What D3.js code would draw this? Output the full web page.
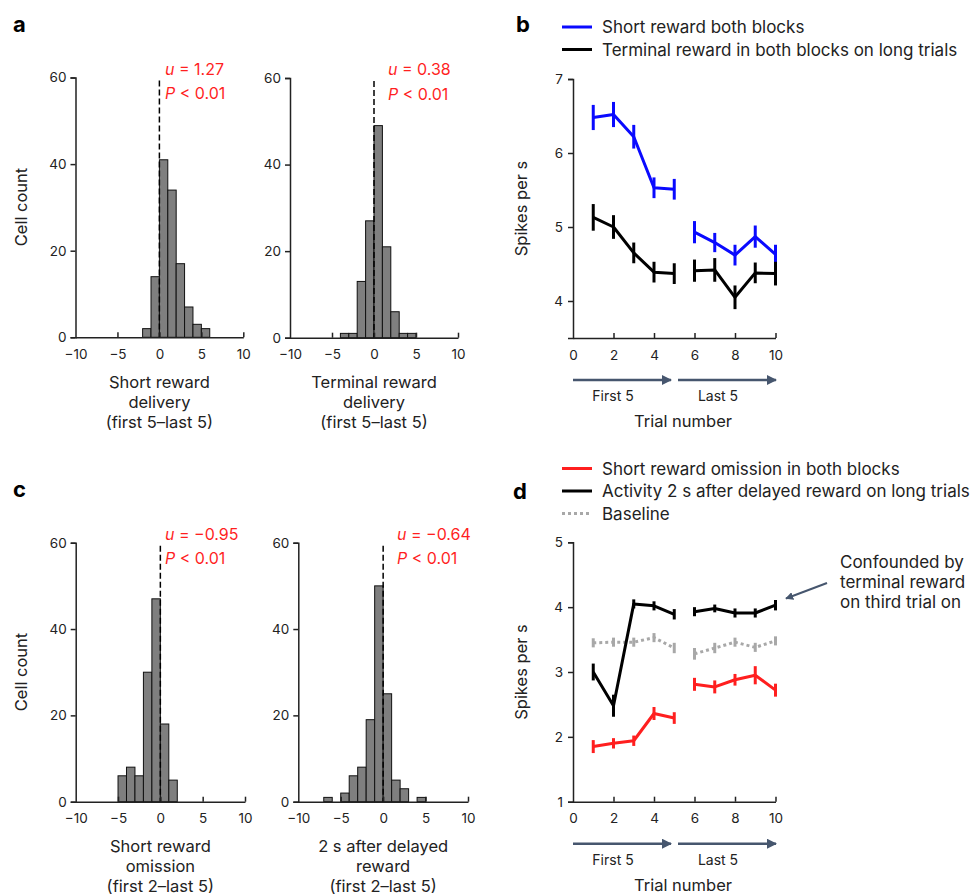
<!DOCTYPE html>
<html><head><meta charset="utf-8">
<script src="https://cdn.jsdelivr.net/npm/d3@7"></script>
<style>
body{margin:0;background:#fff}
svg text{font-family:Inter,"Noto Sans",sans-serif;fill:#222}
</style>
</head><body>
<svg id="chart" width="974" height="895"></svg>
<script>
// ---------- DATA ----------
const histXTicks = [-10,-5,0,5,10];
const histYTicks = [0,20,40,60];

const binsA1 = [-2,-1,0,1,2,3,4,5];
const countsA1 = [2,14,41,34,17,7,3,2];
const binsA2 = [-4,-3,-2,-1,0,1,2,3,4];
const countsA2 = [1,1,13,27,49,21,6,1,1];
const binsC1 = [-5,-4,-3,-2,-1,0,1];
const countsC1 = [6,8,6,30,47,18,5];
const binsC2 = [-7,-5,-4,-3,-2,-1,0,1,2,4];
const countsC2 = [1,2,6,8,19,50,25,5,3,1];

const statsA1 = ["1.27","0.01"];
const statsA2 = ["0.38","0.01"];
const statsC1 = ["−0.95","0.01"];
const statsC2 = ["−0.64","0.01"];

const labelA1 = ["Short reward","delivery","(first 5–last 5)"];
const labelA2 = ["Terminal reward","delivery","(first 5–last 5)"];
const labelC1 = ["Short reward","omission","(first 2–last 5)"];
const labelC2 = ["2 s after delayed","reward","(first 2–last 5)"];

const trials = [1,2,3,4,5,6,7,8,9,10];
const trialTicks = [0,2,4,6,8,10];
const bYTicks = [4,5,6,7];
const dYTicks = [1,2,3,4,5];

const bShortMean = [6.48,6.52,6.22,5.53,5.51,4.93,4.79,4.62,4.87,4.63];
const bShortErr  = [0.17,0.17,0.16,0.14,0.14,0.15,0.13,0.14,0.15,0.13];
const bTermMean  = [5.13,5.00,4.65,4.39,4.37,4.41,4.42,4.05,4.38,4.37];
const bTermErr   = [0.18,0.16,0.14,0.14,0.14,0.15,0.16,0.16,0.14,0.16];

const dOmitMean  = [1.85,1.90,1.94,2.36,2.29,2.81,2.77,2.88,2.95,2.72];
const dOmitErr   = [0.10,0.08,0.08,0.10,0.09,0.10,0.10,0.09,0.14,0.10];
const dDelayMean = [3.00,2.48,4.05,4.02,3.89,3.93,3.98,3.91,3.91,4.03];
const dDelayErr  = [0.13,0.17,0.07,0.07,0.08,0.07,0.06,0.07,0.07,0.08];
const dBaseMean  = [3.45,3.46,3.46,3.53,3.37,3.28,3.37,3.46,3.38,3.48];
const dBaseErr   = [0.07,0.07,0.07,0.07,0.08,0.09,0.08,0.07,0.07,0.07];

const legendB = ["Short reward both blocks","Terminal reward in both blocks on long trials"];
const legendD = ["Short reward omission in both blocks","Activity 2 s after delayed reward on long trials","Baseline"];
const annotD = ["Confounded by","terminal reward","on third trial on"];

// ---------- DRAW ----------
const svg = d3.select("#chart");
const AX = "#222", RED = "#ff1f1f", BLUE = "#0a0aff", GREY = "#a8a8a8", SLATE = "#46566e";
const fmt = d3.format("d");

svg.append("defs").append("marker")
  .attr("id","ah").attr("viewBox","0 0 10 10").attr("refX",9).attr("refY",5)
  .attr("markerWidth",4).attr("markerHeight",4).attr("orient","auto")
  .append("path").attr("d","M0,0L10,5L0,10z").attr("fill",SLATE);

function styleAxis(g){
  g.select(".domain").attr("stroke",AX).attr("stroke-width",1.5);
  g.selectAll(".tick line").attr("stroke",AX).attr("stroke-width",1.5);
  g.selectAll(".tick text").attr("font-size",13.5).attr("fill","#222").style("font-family","Inter,sans-serif");
}

function histogram(box, bins, counts, stats, labels){
  const x = d3.scaleLinear([-10,10],[box.x0,box.x1]);
  const y = d3.scaleLinear([0,60],[box.yb,box.yt]);
  const g = svg.append("g");
  g.selectAll("rect.bar").data(bins.map((b,i)=>({b,c:counts[i]}))).join("rect")
    .attr("x",d=>x(d.b)).attr("width",d=>x(d.b+1)-x(d.b))
    .attr("y",d=>y(d.c)).attr("height",d=>y(0)-y(d.c))
    .attr("fill","#7f7f7f").attr("stroke","#111").attr("stroke-width",1);
  g.append("line").attr("x1",x(0)).attr("x2",x(0)).attr("y1",box.yt+3).attr("y2",y(0))
    .attr("stroke","#000").attr("stroke-width",1.5).attr("stroke-dasharray","6,3");
  const ya = g.append("g").attr("transform",`translate(${box.x0},0)`)
    .call(d3.axisLeft(y).tickValues(histYTicks).tickFormat(fmt).tickSizeOuter(0).tickSize(5).tickPadding(4));
  styleAxis(ya);
  const xa = g.append("g").attr("transform",`translate(0,${y(0)})`)
    .call(d3.axisBottom(x).tickValues(histXTicks).tickFormat(fmt).tickSizeInner(-5).tickSizeOuter(0).tickPadding(12));
  styleAxis(xa);
  xa.selectAll(".tick").filter(d=>d===-10).select("line").remove();
  const cx = (box.x0+box.x1)/2;
  labels.forEach((t,i)=>g.append("text").attr("x",cx).attr("y",box.yb+50.5+i*20)
    .attr("text-anchor","middle").attr("font-size",16.5).text(t));
  const t1 = g.append("text").attr("x",box.sx).attr("y",box.yt-3).attr("font-size",16).style("fill",RED);
  t1.append("tspan").attr("font-style","italic").style("fill",RED).text("u");
  t1.append("tspan").style("fill",RED).text(" = "+stats[0]);
  const t2 = g.append("text").attr("x",box.sx).attr("y",box.yt+21.5).attr("font-size",16).style("fill",RED);
  t2.append("tspan").attr("font-style","italic").style("fill",RED).text("P");
  t2.append("tspan").style("fill",RED).text(" < "+stats[1]);
}

histogram({x0:75.5,x1:243.3,yt:77.5,yb:337.3,sx:165}, binsA1, countsA1, statsA1, labelA1);
histogram({x0:290,x1:458,yt:78,yb:337.7,sx:388}, binsA2, countsA2, statsA2, labelA2);
histogram({x0:75.7,x1:245,yt:542.7,yb:801.7,sx:165}, binsC1, countsC1, statsC1, labelC1);
histogram({x0:298.3,x1:468,yt:542.7,yb:801.7,sx:397}, binsC2, countsC2, statsC2, labelC2);

// y labels "Cell count"
[[27,207],[27,672]].forEach(([px,py])=>svg.append("text")
  .attr("transform",`translate(${px},${py}) rotate(-90)`).attr("text-anchor","middle")
  .attr("font-size",16.5).text("Cell count"));

function linePanel(box, yDomain, yTicks, series){
  const x = d3.scaleLinear([0,10],[573,775.5]);
  const y = d3.scaleLinear(yDomain,[box.yb,box.yt]);
  const g = svg.append("g");
  const ya = g.append("g").attr("transform",`translate(${x(0)},0)`)
    .call(d3.axisLeft(y).tickValues(yTicks).tickFormat(fmt).tickSizeOuter(0).tickSize(5).tickPadding(5));
  styleAxis(ya);
  const xa = g.append("g").attr("transform",`translate(0,${box.yb})`)
    .call(d3.axisBottom(x).tickValues(trialTicks).tickFormat(fmt).tickSizeInner(-5).tickSizeOuter(0).tickPadding(12));
  styleAxis(xa);
  xa.selectAll(".tick").filter(d=>d===0).select("line").remove();
  const line = d3.line().x(d=>x(d.t)).y(d=>y(d.m));
  series.forEach(s=>{
    const pts = trials.map((t,i)=>({t,m:s.mean[i],e:s.err[i]}));
    [pts.slice(0,5),pts.slice(5)].forEach(seg=>{
      g.append("path").datum(seg).attr("d",line).attr("fill","none")
        .attr("stroke",s.color).attr("stroke-width",3).attr("stroke-linejoin","round")
        .attr("stroke-dasharray",s.dash||null);
    });
    g.selectAll(null).data(pts).join("line")
      .attr("x1",d=>x(d.t)).attr("x2",d=>x(d.t))
      .attr("y1",d=>y(d.m-d.e)).attr("y2",d=>y(d.m+d.e))
      .attr("stroke",s.color).attr("stroke-width",3);
  });
  // arrows & x label
  const ay = box.yb+42;
  [[573,673,"First 5"],[678,778,"Last 5"]].forEach(([a,b,t])=>{
    g.append("line").attr("x1",a).attr("x2",b-2).attr("y1",ay).attr("y2",ay)
      .attr("stroke",SLATE).attr("stroke-width",2.5).attr("marker-end","url(#ah)");
    g.append("text").attr("x",(a+b)/2-10).attr("y",ay+21).attr("text-anchor","middle")
      .attr("font-size",14).text(t);
  });
  g.append("text").attr("x",683).attr("y",box.yb+89).attr("text-anchor","middle")
    .attr("font-size",16.5).text("Trial number");
  g.append("text").attr("transform",`translate(527,${(box.yt+box.yb)/2}) rotate(-90)`)
    .attr("text-anchor","middle").attr("font-size",16.5).text("Spikes per s");
  return {x,y};
}

linePanel({yt:79,yb:338},[3.5,7],bYTicks,[
  {mean:bShortMean,err:bShortErr,color:BLUE},
  {mean:bTermMean,err:bTermErr,color:"#000"}
]);
linePanel({yt:542.3,yb:801.7},[1,5],dYTicks,[
  {mean:dBaseMean,err:dBaseErr,color:GREY,dash:"3,3"},
  {mean:dOmitMean,err:dOmitErr,color:RED},
  {mean:dDelayMean,err:dDelayErr,color:"#000"}
]);

// legends
function legend(items, colors, dashes, y0){
  items.forEach((t,i)=>{
    const yy = y0+i*22.5;
    svg.append("line").attr("x1",562).attr("x2",592).attr("y1",yy).attr("y2",yy)
      .attr("stroke",colors[i]).attr("stroke-width",3).attr("stroke-dasharray",dashes[i]);
    svg.append("text").attr("x",602).attr("y",yy+6).attr("font-size",17).text(t);
  });
}
legend(legendB,[BLUE,"#000"],[null,null],27);
legend(legendD,[RED,"#000",GREY],[null,null,"3,3"],468.5);

// annotation d
svg.append("line").attr("x1",827).attr("y1",583).attr("x2",786).attr("y2",598.5)
  .attr("stroke",SLATE).attr("stroke-width",2).attr("marker-end","url(#ah)");
annotD.forEach((t,i)=>svg.append("text").attr("x",840).attr("y",568+i*20).attr("font-size",17).text(t));

// panel letters
[["a",13,32],["b",516,32],["c",13,497],["d",513,499]].forEach(([t,px,py])=>
  svg.append("text").attr("x",px).attr("y",py).attr("font-size",22).attr("font-weight","bold")
    .style("fill","#000").text(t));
</script>
</body></html>
